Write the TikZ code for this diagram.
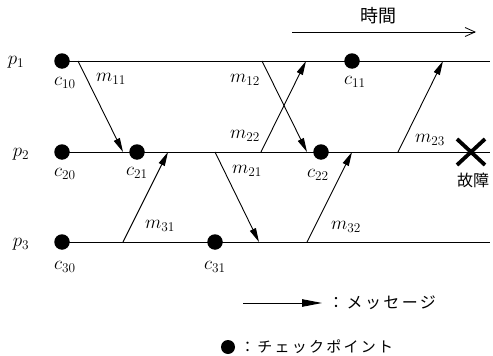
\RequirePackage{fix-cm}
\documentclass[tikz,border=0pt]{standalone}
\usepackage{fontspec}
\newfontfamily\jp{Noto Sans CJK JP}
\newfontfamily\jpwide[LetterSpace=15]{Noto Sans CJK JP}
\usetikzlibrary{arrows.meta}
\begin{document}
\begin{tikzpicture}[x=1pt,y=-1pt,
  dot/.style={circle,fill=black,inner sep=0pt,minimum size=15.5pt},
  proc/.style={line width=0.9pt},
  msg/.style={line width=0.9pt,-{Triangle[length=14pt,width=6.5pt]}},
  lbl/.style={inner sep=0pt,font=\fontsize{19}{21}\selectfont},
  jplbl/.style={inner sep=0pt,font=\fontsize{17}{19}\selectfont\jp},
  failx/.style={line width=3.8pt}
]
\useasboundingbox (0,0) rectangle (493,356);

% time arrow
\coordinate (ta) at (292,32);
\coordinate (tb) at (476,32);
\draw[line width=0.8pt,-{Straight Barb[length=10pt,width=9pt]}] (ta) -- (tb);
\node[jplbl,font=\fontsize{18}{20}\selectfont\jp] (time) at (378,16) {時間};

% process labels
\node[lbl] (p1) at (16,62) {$p_1$};
\node[lbl] (p2) at (21,154) {$p_2$};
\node[lbl] (p3) at (21,244) {$p_3$};

% checkpoints
\node[dot] (c10) at (62,61) {};
\node[dot] (c20) at (62,152) {};
\node[dot] (c30) at (62,242) {};
\node[dot] (c21) at (137,152) {};
\node[dot] (c31) at (215,242) {};
\node[dot] (c11) at (352,61) {};
\node[dot] (c22) at (321,152) {};

% process line ends
\coordinate (e1) at (490,61);
\coordinate (e2) at (490,152);
\coordinate (e3) at (490,242);
\draw[proc] (c10.center) -- (e1);
\draw[proc] (c20.center) -- (e2);
\draw[proc] (c30.center) -- (e3);

% checkpoint labels
\node[lbl] (lc10) at (65,83) {$c_{10}$};
\node[lbl] (lc20) at (65,174) {$c_{20}$};
\node[lbl] (lc30) at (65,267) {$c_{30}$};
\node[lbl] (lc21) at (137,173) {$c_{21}$};
\node[lbl] (lc31) at (215,267) {$c_{31}$};
\node[lbl] (lc11) at (355,82) {$c_{11}$};
\node[lbl] (lc22) at (318,175) {$c_{22}$};

% messages
\coordinate (s11) at (78,61);   \coordinate (t11) at (123,152);
\coordinate (s31) at (123,242); \coordinate (t31) at (168,152);
\coordinate (s21) at (215,152); \coordinate (t21) at (259,242);
\coordinate (s12) at (262,61);  \coordinate (t12) at (307,152);
\coordinate (s22) at (261,152); \coordinate (t22) at (306,61);
\coordinate (s32) at (307,242); \coordinate (t32) at (352,152);
\coordinate (s23) at (398,152); \coordinate (t23) at (443,61);
\draw[msg] (s11) -- (t11);
\draw[msg] (s31) -- (t31);
\draw[msg] (s21) -- (t21);
\draw[msg] (s12) -- (t12);
\draw[msg] (s22) -- (t22);
\draw[msg] (s32) -- (t32);
\draw[msg] (s23) -- (t23);

% message labels
\node[lbl] (lm11) at (111,79) {$m_{11}$};
\node[lbl] (lm12) at (245,80) {$m_{12}$};
\node[lbl] (lm22) at (245,136) {$m_{22}$};
\node[lbl] (lm21) at (247,171) {$m_{21}$};
\node[lbl] (lm31) at (160,226) {$m_{31}$};
\node[lbl] (lm32) at (346,227) {$m_{32}$};
\node[lbl] (lm23) at (430,140) {$m_{23}$};

% failure
\coordinate (fx) at (471,152);
\draw[failx] ([shift={(-14,-13)}]fx) -- ([shift={(14,13)}]fx);
\draw[failx] ([shift={(-14,13)}]fx) -- ([shift={(14,-13)}]fx);
\node[jplbl,font=\fontsize{16}{18}\selectfont\jp] (fail) at (473,180) {故障};

% legend
\coordinate (la) at (243,303);
\coordinate (lb) at (322,303);
\draw[line width=0.9pt,-{Triangle[length=20pt,width=7.5pt]}] (la) -- (lb);
\node[inner sep=0pt,anchor=west,font=\fontsize{16}{18}\selectfont\jpwide] (lmsg) at (328,303) {：メッセージ};
\node[dot,minimum size=14pt] (ldot) at (228,347) {};
\node[inner sep=0pt,anchor=west,font=\fontsize{15}{17}\selectfont\jpwide] (lcp) at (240,347) {：チェックポイント};
\end{tikzpicture}
\end{document}
